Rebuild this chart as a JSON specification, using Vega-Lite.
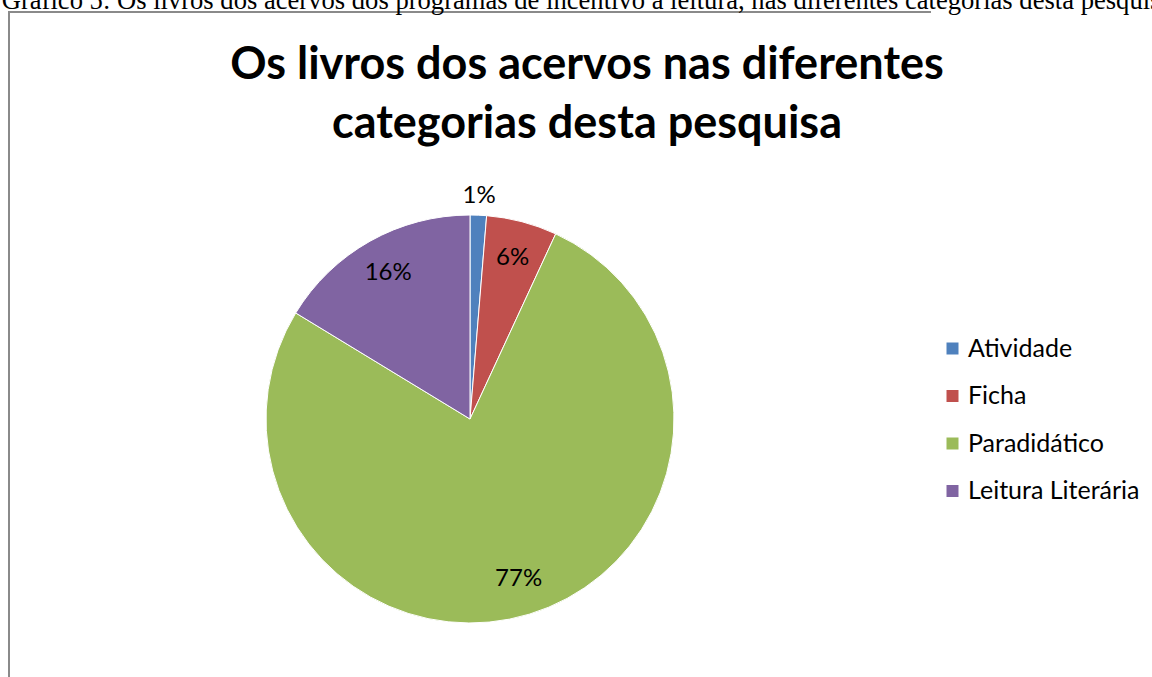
{
  "$schema": "https://vega.github.io/schema/vega-lite/v6.json",
  "autosize": {"type": "none"},
  "width": 922,
  "height": 814,
  "padding": {"left": 9, "top": 12, "right": 221, "bottom": -149},
  "background": "#ffffff",
  "view": {"stroke": "#8a8a8a", "strokeWidth": 2, "strokeDash": [922, 1736, 814], "fill": "#ffffff"},
  "title": {
    "text": "Gráfico 5: Os livros dos acervos dos programas de incentivo à leitura, nas diferentes categorias desta pesquisa",
    "subtitle": ["Os livros dos acervos nas diferentes", "categorias desta pesquisa"],
    "font": "Liberation Serif",
    "fontSize": 26.6,
    "fontWeight": "normal",
    "color": "#000000",
    "subtitleFont": "Lato",
    "subtitleFontSize": 45,
    "subtitleFontWeight": "bold",
    "subtitleColor": "#000000",
    "subtitleLineHeight": 59,
    "subtitlePadding": 28,
    "anchor": "middle",
    "frame": "group",
    "dx": 117,
    "offset": -134.5,
    "limit": 0
  },
  "data": {
    "values": [
      {"cat": "Atividade", "pct": 0.013, "rank": 1},
      {"cat": "Ficha", "pct": 0.056, "rank": 2},
      {"cat": "Paradidático", "pct": 0.768, "rank": 3},
      {"cat": "Leitura Literária", "pct": 0.163, "rank": 4}
    ]
  },
  "encoding": {
    "theta": {"field": "pct", "type": "quantitative", "stack": true},
    "order": {"field": "rank", "type": "quantitative"},
    "color": {
      "field": "cat",
      "type": "nominal",
      "scale": {
        "domain": ["Atividade", "Ficha", "Paradidático", "Leitura Literária"],
        "range": ["#4F81BD", "#C0504D", "#9BBB59", "#8064A2"]
      },
      "legend": {
        "title": null,
        "orient": "none",
        "legendX": 931,
        "legendY": 324,
        "padding": 0,
        "symbolType": "square",
        "symbolSize": 144,
        "symbolStrokeWidth": 0,
        "labelFont": "Lato",
        "labelFontSize": 25,
        "labelColor": "#000000",
        "labelOffset": 3,
        "rowPadding": 21.5,
        "labelLimit": 400
      }
    }
  },
  "layer": [
    {"mark": {"type": "arc", "outerRadius": 204, "stroke": "#ffffff", "strokeWidth": 1}},
    {
      "mark": {"type": "text", "radius": 167, "font": "Lato", "fontSize": 24, "align": "center", "baseline": "middle"},
      "encoding": {
        "color": {"value": "#000000"},
        "text": {"condition": {"test": "datum.cat === 'Atividade'", "value": ""}, "field": "pct", "type": "quantitative", "format": ".0%"}
      }
    },
    {
      "mark": {"type": "text", "radius": 223, "font": "Lato", "fontSize": 24, "align": "center", "baseline": "middle"},
      "encoding": {
        "color": {"value": "#000000"},
        "text": {"condition": {"test": "datum.cat !== 'Atividade'", "value": ""}, "field": "pct", "type": "quantitative", "format": ".0%"}
      }
    }
  ]
}
